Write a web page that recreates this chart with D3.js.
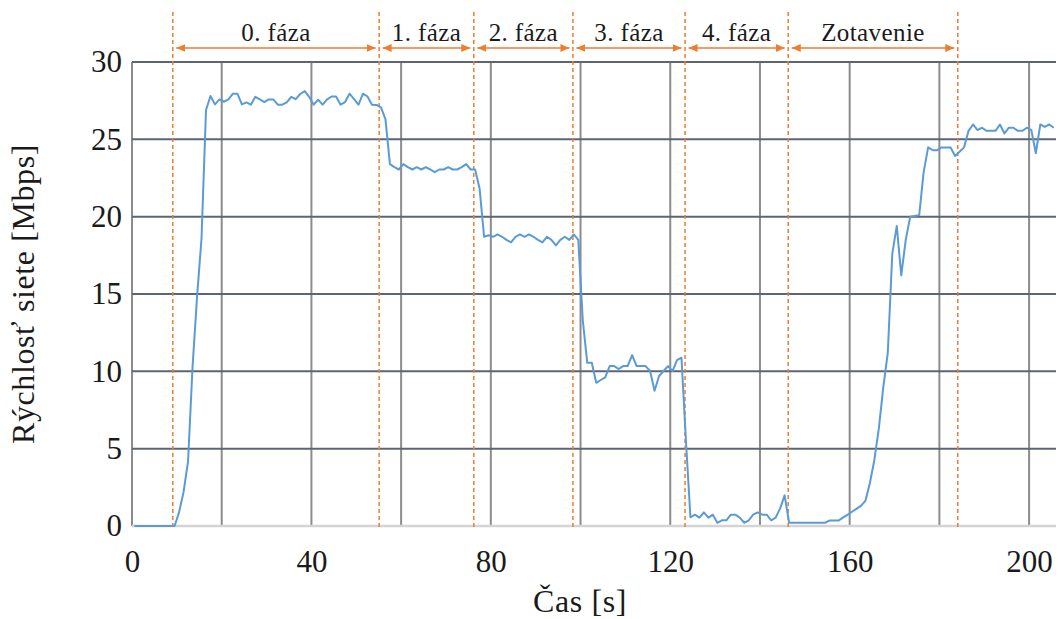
<!DOCTYPE html>
<html>
<head>
<meta charset="utf-8">
<script src="https://cdn.jsdelivr.net/npm/d3@7"></script>
<style>
  body { margin: 0; background: #fff; }
  svg text { font-family: "Liberation Serif", "Times New Roman", Tinos, "DejaVu Serif", serif; fill: #1a1a1a; }
</style>
</head>
<body>
<svg width="1058" height="619"></svg>
<script>
// Data: one sample per second, first one at t = 0.5 s
const startTime = 0.5
const speed = [
  0, 0, 0, 0, 0, 0, 0, 0, 0, 0,
  0.9, 2.2, 4.2, 10.3, 14.8, 18.6, 26.9, 27.8, 27.26, 27.58,
  27.43, 27.58, 27.95, 27.95, 27.26, 27.39, 27.24, 27.75, 27.58, 27.41,
  27.58, 27.58, 27.24, 27.24, 27.39, 27.75, 27.6, 27.93, 28.12, 27.75,
  27.24, 27.56, 27.24, 27.58, 27.77, 27.77, 27.24, 27.41, 27.95, 27.6,
  27.24, 27.95, 27.77, 27.24, 27.22, 27.06, 26.31, 23.4, 23.2, 23.05,
  23.4, 23.2, 23.05, 23.2, 23.05, 23.2, 23.05, 22.88, 23.05, 23.05,
  23.2, 23.05, 23.05, 23.2, 23.4, 23.05, 23.05, 21.8, 18.7, 18.8,
  18.7, 18.85, 18.7, 18.5, 18.34, 18.7, 18.85, 18.7, 18.85, 18.7,
  18.5, 18.34, 18.7, 18.5, 18.14, 18.5, 18.7, 18.5, 18.85, 18.5,
  13.3, 10.55, 10.55, 9.26, 9.44, 9.61, 10.34, 10.34, 10.15, 10.34,
  10.34, 11.05, 10.34, 10.34, 10.34, 10.02, 8.75, 9.7, 10.02, 10.34,
  10.02, 10.73, 10.88, 5.5, 0.56, 0.73, 0.54, 0.88, 0.54, 0.73,
  0.21, 0.37, 0.37, 0.73, 0.73, 0.54, 0.21, 0.37, 0.73, 0.88,
  0.73, 0.73, 0.37, 0.54, 1.14, 1.98, 0.21, 0.21, 0.21, 0.21,
  0.21, 0.21, 0.21, 0.21, 0.21, 0.35, 0.35, 0.35, 0.54, 0.72,
  0.92, 1.11, 1.3, 1.62, 2.76, 4.27, 6.3, 9.0, 11.2, 17.6,
  19.4, 16.2, 18.5, 20.0, 20.05, 20.1, 22.9, 24.48, 24.3, 24.3,
  24.48, 24.48, 24.48, 23.92, 24.2, 24.48, 25.55, 25.96, 25.6, 25.75,
  25.55, 25.55, 25.55, 25.96, 25.38, 25.75, 25.75, 25.55, 25.55, 25.75,
  25.6, 24.1, 25.96, 25.8, 25.96, 25.75
]
const phaseBounds = [9.1, 55.1, 76.2, 98.3, 123.3, 146.3, 184.1]
const phaseNames = ['0. fáza', '1. fáza', '2. fáza', '3. fáza', '4. fáza', 'Zotavenie']
const xTicks = [0, 40, 80, 120, 160, 200]
const xGrid = [0, 20, 40, 60, 80, 100, 120, 140, 160, 180, 200]
const yTicks = [0, 5, 10, 15, 20, 25, 30]

const width = 1058
const height = 619
const margin = {top: 62, right: 2, bottom: 93, left: 132}
const orange = '#ED7D31'
const serif = '"Liberation Serif", "Times New Roman", Tinos, "DejaVu Serif", serif'

const svg = d3.select('svg')

const xScale = d3.scaleLinear()
                .domain([0, 206])
                .range([margin.left, width - margin.right])
const yScale = d3.scaleLinear()
                .domain([0, 30])
                .range([height - margin.bottom, margin.top])

// grid: vertical lines grey, horizontal lines slate
svg.append('g')
    .selectAll('line')
    .data(xGrid)
    .enter()
    .append('line')
    .attr('x1', d => xScale(d))
    .attr('x2', d => xScale(d))
    .attr('y1', yScale(30))
    .attr('y2', yScale(0))
    .attr('stroke', '#8c8c8c')
    .attr('stroke-width', 2)

svg.append('g')
    .selectAll('line')
    .data(yTicks.filter(d => d > 0))
    .enter()
    .append('line')
    .attr('x1', xScale(0))
    .attr('x2', width - margin.right)
    .attr('y1', d => yScale(d))
    .attr('y2', d => yScale(d))
    .attr('stroke', '#5d6575')
    .attr('stroke-width', 2)

svg.append('line')
    .attr('x1', xScale(0))
    .attr('x2', width - margin.right)
    .attr('y1', yScale(0))
    .attr('y2', yScale(0))
    .attr('stroke', '#d4d4d4')
    .attr('stroke-width', 2.5)

// axes (only labels are shown)
const xAxis = d3.axisBottom(xScale).tickValues(xTicks).tickSize(0).tickPadding(24)
const yAxis = d3.axisLeft(yScale).tickValues(yTicks).tickSize(0).tickPadding(10)

const gx = svg.append('g')
    .attr('transform', 'translate(0,' + yScale(0) + ')')
    .call(xAxis)
    .attr('font-family', serif)
gx.select('.domain').remove()
gx.selectAll('text').style('font-size', '31px').style('font-family', serif).attr('fill', '#1a1a1a')

const gy = svg.append('g')
    .attr('transform', 'translate(' + xScale(0) + ',0)')
    .call(yAxis)
    .attr('font-family', serif)
gy.select('.domain').remove()
gy.selectAll('text').style('font-size', '31px').style('font-family', serif).attr('fill', '#1a1a1a')

svg.append('text')
    .attr('x', 580)
    .attr('y', 612)
    .attr('text-anchor', 'middle')
    .style('font-family', serif)
    .style('font-size', '32px')
    .style('letter-spacing', '0.6px')
    .text('Čas [s]')

svg.append('text')
    .attr('transform', 'translate(34,' + (margin.top + yScale(0)) / 2 + ') rotate(-90)')
    .attr('text-anchor', 'middle')
    .style('font-family', serif)
    .style('font-size', '32px')
    .style('letter-spacing', '0.6px')
    .text('Rýchlosť siete [Mbps]')

// phase boundaries
svg.append('g')
    .selectAll('line')
    .data(phaseBounds)
    .enter()
    .append('line')
    .attr('x1', d => xScale(d))
    .attr('x2', d => xScale(d))
    .attr('y1', 12)
    .attr('y2', yScale(0) + 3)
    .attr('stroke', orange)
    .attr('stroke-width', 1.5)
    .attr('stroke-dasharray', '4,3')

// data line
const line = d3.line()
    .x((d, i) => xScale(i + startTime))
    .y(d => yScale(d))

svg.append('path')
    .datum(speed)
    .attr('d', line)
    .attr('fill', 'none')
    .attr('stroke', '#5B9BD5')
    .attr('stroke-width', 2)
    .attr('stroke-linejoin', 'round')

// phase arrows + labels
svg.append('defs')
    .append('marker')
    .attr('id', 'head')
    .attr('markerUnits', 'userSpaceOnUse')
    .attr('markerWidth', 10)
    .attr('markerHeight', 8)
    .attr('refX', 9)
    .attr('refY', 4)
    .attr('orient', 'auto-start-reverse')
    .append('path')
    .attr('d', 'M0,0 L9,4 L0,8 Z')
    .attr('fill', orange)

const phases = phaseNames.map((name, i) => ({name, from: phaseBounds[i], to: phaseBounds[i + 1]}))
const arrowY = 48

const pg = svg.append('g')
    .selectAll('g')
    .data(phases)
    .enter()
    .append('g')

pg.append('line')
    .attr('x1', d => xScale(d.from) + 3.5)
    .attr('x2', d => xScale(d.to) - 3.5)
    .attr('y1', arrowY)
    .attr('y2', arrowY)
    .attr('stroke', orange)
    .attr('stroke-width', 1.5)
    .attr('marker-start', 'url(#head)')
    .attr('marker-end', 'url(#head)')

pg.append('text')
    .attr('x', d => (xScale(d.from) + xScale(d.to)) / 2)
    .attr('y', 41)
    .attr('text-anchor', 'middle')
    .style('font-family', serif)
    .style('font-size', '25px')
    .style('letter-spacing', '0.4px')
    .text(d => d.name)
</script>
</body>
</html>
